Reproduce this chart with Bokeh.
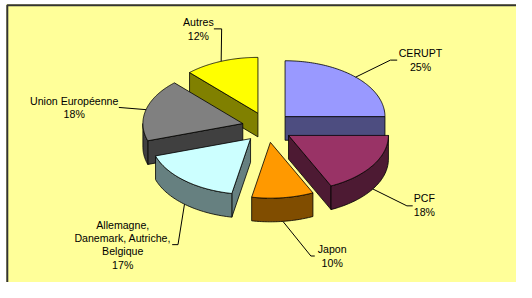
import numpy as np
from bokeh.plotting import figure
from bokeh.models import Range1d
from bokeh.embed import file_html
from bokeh.resources import INLINE
from bokeh.core.properties import value

# ---- data ----
categories = ["CERUPT", "PCF", "Japon",
              "Allemagne, Danemark, Autriche, Belgique",
              "Union Européenne", "Autres"]
label_lines = [["CERUPT"], ["PCF"], ["Japon"],
               ["Allemagne,", "Danemark, Autriche,", "Belgique"],
               ["Union Européenne"], ["Autres"]]
shares = [25, 18, 10, 17, 18, 12]

# ---- styles ----
top_colors = ["#9999FF", "#993366", "#FF9900", "#CCFFFF", "#808080", "#FFFF00"]
side_colors = ["#4D4D80", "#4D1A33", "#804D00", "#668080", "#404040", "#808000"]

# ---- layout (reference image coordinates, 532 x 298) ----
W, H = 516, 282
RW, RH = 532, 298
BX, BY = 6, 4              # chart-area border corner
CX, CY = 275, 134          # pie centre
RA, RB = 103, 59           # ellipse radii
DEPTH = 25                 # pie thickness
KX, KY = 26, 16            # explosion offsets
label_pos = [(433, 56), (437, 209), (342, 263), (126, 237), (76, 106), (204, 23)]
leader_elbows = [[(402, 63), (409, 63)],
                 [(419, 217), (425, 217)],
                 [(320, 270), (324, 270)],
                 [(183, 258), (177, 258)],
                 [(122, 113)],
                 [(228, 30), (220, 30)]]
LINE_H = 14

p = figure(width=W, height=H, x_range=Range1d(0, RW), y_range=Range1d(RH, 0),
           output_backend="svg", toolbar_location=None,
           x_axis_location=None, y_axis_location=None, min_border=0)
p.grid.visible = False
p.outline_line_color = None
p.background_fill_color = "white"
p.border_fill_color = "white"

# chart area
p.quad(left=[BX], right=[RW + 5], top=[BY], bottom=[RH + 5], fill_color="#FFFF99", line_color=None)
p.line([BX + 1, BX + 1, RW + 5], [RH + 5, BY + 1, BY + 1], line_color="#333333", line_width=2)

total = float(sum(shares))
slices = []
cum = 0.0
for i, s in enumerate(shares):
    hi = 90 - 360 * cum / total
    lo = hi - 360 * s / total
    cum += s
    mid = np.radians((lo + hi) / 2)
    ccx = CX + KX * np.cos(mid)
    ccy = CY - KY * np.sin(mid)
    slices.append((i, lo, hi, ccx, ccy))


def pt(ccx, ccy, deg, dz=0.0):
    t = np.radians(deg)
    return ccx + RA * np.cos(t), ccy - RB * np.sin(t) + dz


for i, lo, hi, ccx, ccy in sorted(slices, key=lambda t: t[4]):
    sides_x, sides_y = [], []
    # radial faces
    for ang, vis in ((hi, np.cos(np.radians(hi)) < -1e-6), (lo, np.cos(np.radians(lo)) > 1e-6)):
        if vis:
            px, py = pt(ccx, ccy, ang)
            sides_x.append([ccx, px, px, ccx])
            sides_y.append([ccy, py, py + DEPTH, ccy + DEPTH])
    # outer wall where front-facing (sin < 0)
    for k in (-1, 0, 1):
        a0 = max(lo, -180 + 360 * k)
        a1 = min(hi, 0 + 360 * k)
        if a1 - a0 > 0.1:
            angs = np.linspace(a0, a1, 40)
            top = [pt(ccx, ccy, a) for a in angs]
            bot = [pt(ccx, ccy, a, DEPTH) for a in angs[::-1]]
            sides_x.append([q[0] for q in top] + [q[0] for q in bot])
            sides_y.append([q[1] for q in top] + [q[1] for q in bot])
    if sides_x:
        p.patches(sides_x, sides_y, fill_color=side_colors[i], line_color="black", line_width=0.8)
    angs = np.linspace(lo, hi, 80)
    arc = [pt(ccx, ccy, a) for a in angs]
    p.patch([ccx] + [q[0] for q in arc], [ccy] + [q[1] for q in arc],
            fill_color=top_colors[i], line_color="black", line_width=0.8)

# leader lines and labels
for i, lo, hi, ccx, ccy in slices:
    m = (lo + hi) / 2
    dz = DEPTH if np.sin(np.radians(m)) < 0 else 0
    ex, ey = pt(ccx, ccy, m, dz)
    xs = [ex] + [e[0] for e in leader_elbows[i]]
    ys = [ey] + [e[1] for e in leader_elbows[i]]
    p.line(xs, ys, line_color="black", line_width=1)
    lines = label_lines[i] + [f"{shares[i]}%"]
    lx, ly = label_pos[i]
    p.text(x=[lx] * len(lines), y=[ly + LINE_H * j for j in range(len(lines))], text=lines,
           text_font=value("Liberation Sans"), text_font_size="10.6px",
           text_align="center", text_baseline="middle", text_color="black")

open("out.html", "w").write(file_html(p, INLINE))
